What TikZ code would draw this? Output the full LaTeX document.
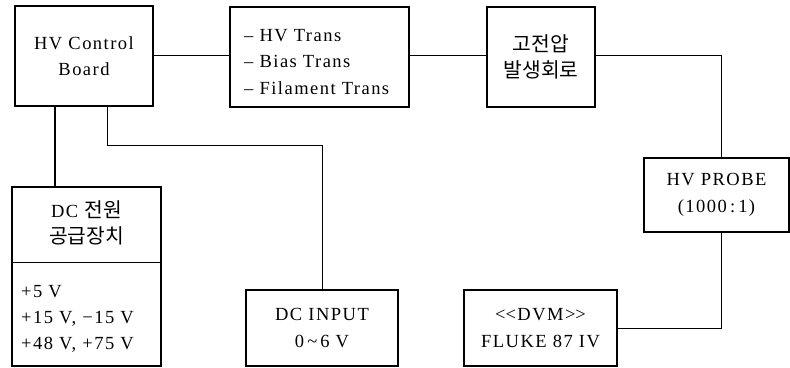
\documentclass[tikz,border=0pt]{standalone}
\usepackage{fontspec}
\setmainfont{Liberation Serif}[LetterSpace=8]
\newfontfamily\kr{Noto Sans CJK KR}[Scale=1.1]
\begin{document}
\begin{tikzpicture}[x=1pt,y=-1pt,
  every node/.style={font=\fontsize{18.5}{26.5}\selectfont, inner sep=0pt},
  box/.style={draw, line width=2.2pt, minimum width=#1},
  thinbox/.style={draw, line width=1.6pt},
  conn/.style={line width=1pt},
  thickconn/.style={line width=2.6pt}]
\useasboundingbox (0,0) rectangle (790,367);
% boxes
\node[box=138, minimum height=100, align=center] (hv) at (84,56) {HV Control\\Board};
\node[thinbox, minimum width=179, minimum height=100] (tr) at (319.5,57) {};
\node[align=left, anchor=west] (trtxt) at (244,62) {– HV Trans\\– Bias Trans\\– Filament Trans};
\node[box=108, minimum height=100, align=center] (gen) at (541,57) {\kr 고전압\\\kr 발생회로};
\node[thinbox, minimum width=145, minimum height=74, align=center] (probe) at (716.5,195) {HV PROBE\\(1000\,:\,1)};
\node[box=153, minimum height=76, align=center] (dvm) at (540.5,328) {<\kern0pt<DVM>\kern0pt>\\FLUKE 87 IV};
\node[box=149, minimum height=179] (dc) at (86.5,276.5) {};
\node[align=center] (dctitle) at (86.5,223) {DC {\kr 전원}\\\kr 공급장치};
\node[align=left, anchor=west, font=\fontsize{18.5}{26}\selectfont] (dcv) at (21,319) {+5 V\\+15 V, −15 V\\+48 V, +75 V};
\node[box=152, minimum height=76, align=center] (dcin) at (322,328) {DC INPUT\\0\,\textasciitilde\,6 V};
% divider in DC box
\coordinate (divl) at (dc.west |- 0,262);
\coordinate (divr) at (dc.east |- 0,262);
\draw[conn] (divl) -- (divr);
% connectors
\draw[conn] (hv.east |- 0,55) -- (tr.west |- 0,55);
\draw[conn] (tr.east |- 0,55) -- (gen.west |- 0,55);
\coordinate (c1) at (721,55);
\draw[conn] (gen.east |- 0,55) -- (c1) -- (c1 |- probe.north);
\coordinate (c2) at (721,328);
\draw[conn] (c2 |- probe.south) -- (c2) -- (dvm.east |- c2);
\draw[thickconn] (55,0 |- hv.south) -- (55,0 |- dc.north);
\coordinate (c3) at (107,145);
\coordinate (c4) at (322,145);
\draw[conn] (c3 |- hv.south) -- (c3) -- (c4) -- (c4 |- dcin.north);
\end{tikzpicture}
\end{document}
